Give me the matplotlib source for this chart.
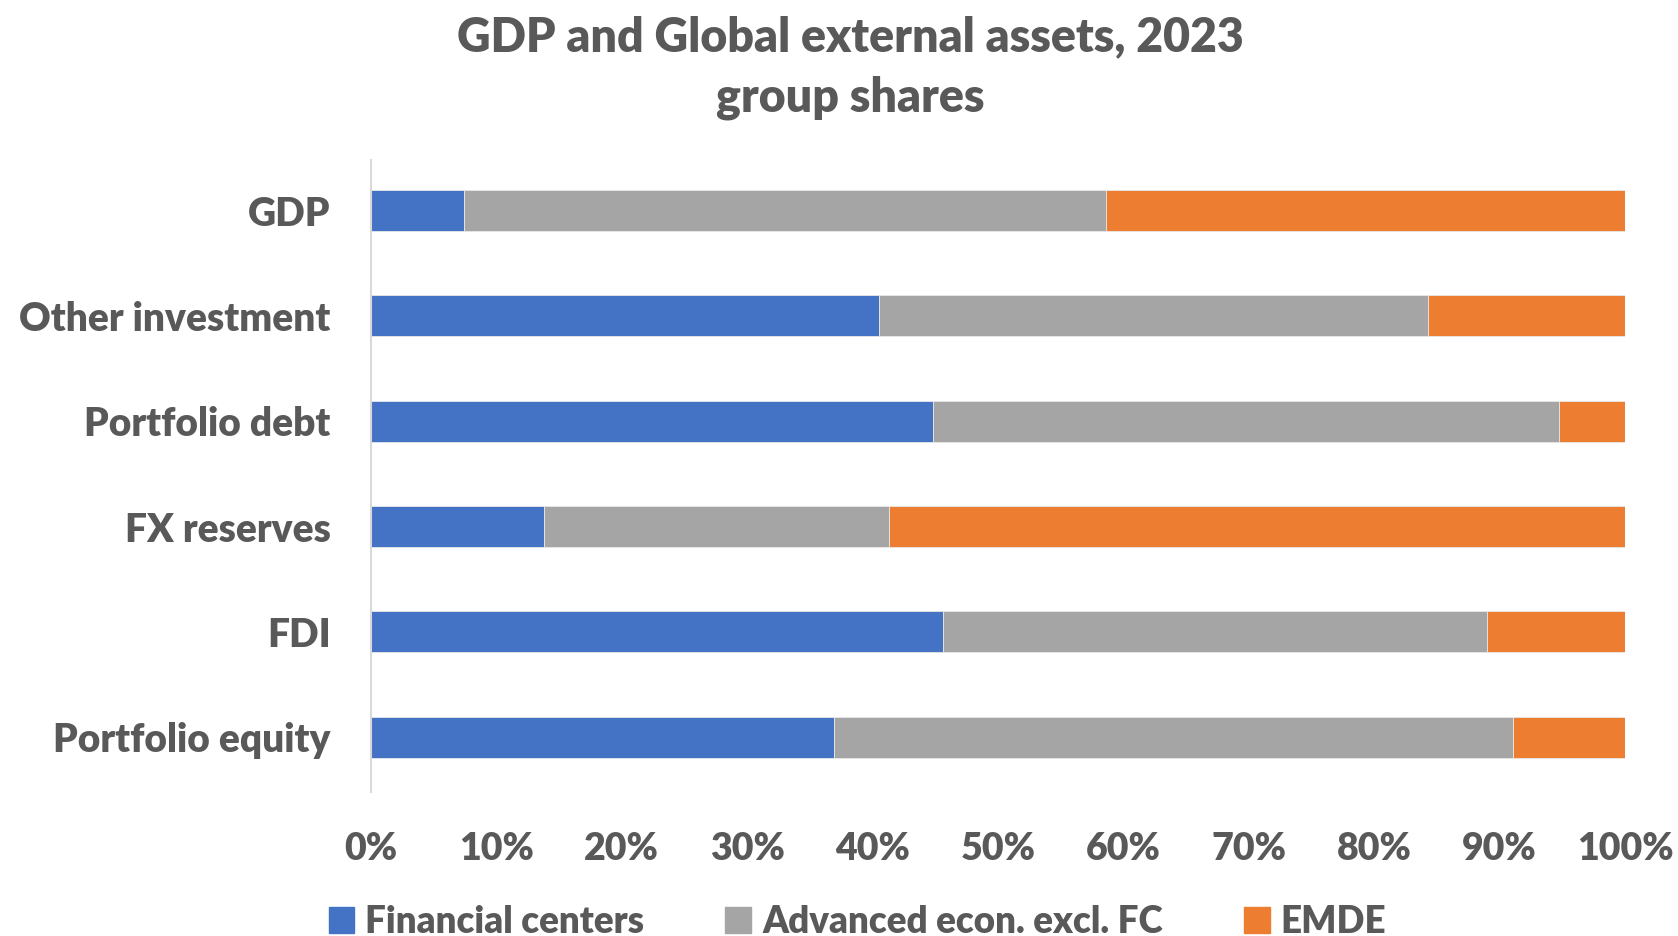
import matplotlib.pyplot as plt
from matplotlib.patches import Patch

# доли групп стран, %
categories = ['GDP', 'Other investment', 'Portfolio debt', 'FX reserves', 'FDI', 'Portfolio equity']
fin_centers = [7.4, 40.5, 44.8, 13.8, 45.6, 36.9]
advanced = [51.2, 43.8, 49.9, 27.5, 43.4, 54.2]
emde = [41.4, 15.7, 5.3, 58.7, 11.0, 8.9]
series_names = ['Financial centers', 'Advanced econ. excl. FC', 'EMDE']
colors = ['#4472C4', '#A5A5A5', '#ED7D31']
text_color = '#595959'

plt.rcParams['font.family'] = ['Lato', 'DejaVu Sans']
plt.rcParams['font.weight'] = 'bold'
W = 'heavy'

fig = plt.figure(figsize=(16.78, 9.36), dpi=100)
ax = fig.add_axes([0.2211, 1 - 792 / 936, 0.7473, 632 / 936])

idx = list(range(len(categories)))
left2 = [a for a in fin_centers]
left3 = [a + b for a, b in zip(fin_centers, advanced)]
ax.barh(idx, fin_centers, height=0.39, color=colors[0], edgecolor='#e8e8e8', linewidth=0.6)
ax.barh(idx, advanced, left=left2, height=0.39, color=colors[1], edgecolor='#e8e8e8', linewidth=0.6)
ax.barh(idx, emde, left=left3, height=0.39, color=colors[2], edgecolor='#e8e8e8', linewidth=0.6)

ax.set_xlim(0, 100)
ax.set_ylim(5.52, -0.48)
ax.set_yticks(idx)
ax.set_yticklabels(categories, fontsize=28, color=text_color, fontweight=W)
ax.set_xticks(range(0, 101, 10))
ax.set_xticklabels([f'{v}%' for v in range(0, 101, 10)], fontsize=27, color=text_color, fontweight=W)
ax.tick_params(axis='y', length=0, pad=29)
ax.tick_params(axis='x', length=0, pad=29)

for s in ['top', 'right', 'bottom']:
    ax.spines[s].set_visible(False)
ax.spines['left'].set_color('#d9d9d9')
ax.spines['left'].set_linewidth(1.5)

fig.text(0.507, 1 - 37 / 936, 'GDP and Global external assets, 2023', ha='center', va='center',
         fontsize=33.5, color=text_color, fontweight=W)
fig.text(0.507, 1 - 98 / 936, 'group shares', ha='center', va='center',
         fontsize=33.5, color=text_color, fontweight=W)

handles = [Patch(color=c, label=n) for c, n in zip(colors, series_names)]
leg = fig.legend(handles=handles, loc='center', bbox_to_anchor=(0.511, 1 - 922 / 936), ncol=3,
                 frameon=False, fontsize=26.5, handlelength=0.7, handleheight=0.7,
                 handletextpad=0.3, columnspacing=2.2)
for t in leg.get_texts():
    t.set_color(text_color)
    t.set_fontweight(W)

fig.savefig('out.png', dpi=100)
